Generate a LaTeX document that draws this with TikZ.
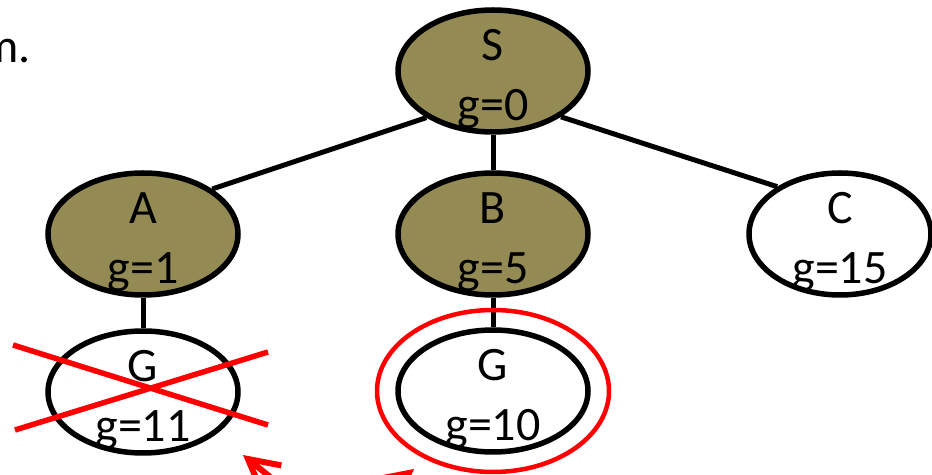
\documentclass[tikz,border=0pt]{standalone}
\usepackage{fontspec}
\setmainfont{Carlito}
\usetikzlibrary{shapes.geometric,arrows.meta}
\definecolor{visited}{HTML}{948A54}

\begin{document}
\begin{tikzpicture}[x=0.5pt,y=-0.5pt,
		state/.style={ellipse,draw,line width=2.75pt,minimum width=95pt,minimum height=61pt,inner sep=0pt},
		gval/.style={align=center,font=\fontsize{24}{30}\selectfont,inner sep=0pt},
		tree/.style={line width=2.5pt},
		crossout/.style={draw=red,line width=2.75pt},
		pointer/.style={draw=red,line width=3pt,-{Straight Barb[length=15pt,width=16pt]}}]
				\useasboundingbox (0,0) rectangle (932,475);
				
				\node[anchor=base east,font=\fontsize{24}{28}\selectfont,inner sep=0pt] (cutoff) at (31,63) {m.};
				
				\begin{scope}[every node/.style={state,fill=visited}]
					\node (S) at (493,71) {};
					\node (A) at (143,234) {};
					\node (B) at (493,234) {};
				\end{scope}
				\node[state,minimum width=91pt] (C) at (840,234) {};
				\node[state] (Gdead) at (143,392) {};
				\node[state] (Ggoal) at (493,391) {};
				
				\draw[tree] (S.215) -- (A.33);
				\draw[tree] (S.south) -- (B.north);
				\draw[tree] (S.326) -- (C.143);
				\draw[tree] (A.south) -- (Gdead.north);
				\draw[tree] (B.south) -- (Ggoal.north);
				
				\node[gval] (Stxt) at ([yshift=-4pt]S) {S\\g=0};
				\node[gval] (Atxt) at ([yshift=-4pt]A) {A\\g=1};
				\node[gval] (Btxt) at ([yshift=-4pt]B) {B\\g=5};
				\node[gval] (Ctxt) at ([yshift=-4pt]C) {C\\g=15};
				\node[gval] (Gdeadtxt) at ([yshift=-4pt]Gdead) {G\\g=11};
				\node[gval] (Ggoaltxt) at ([yshift=-4pt]Ggoal) {G\\g=10};
				
				% crossed out and circled goals
				\draw[crossout] (13,345) -- (268,425);
				\draw[crossout] (15,430) -- (268,352);
				\draw[red,line width=2.25pt] (Ggoal) ellipse [x radius=116, y radius=81];
				
				\coordinate (tail1) at (290,493);
				\coordinate (tip1) at (243,455);
				\coordinate (tail2) at (367,507);
				\coordinate (tip2) at (414,469);
				\draw[pointer] (tail1) -- (tip1);
				\draw[pointer] (tail2) -- (tip2);
			\end{tikzpicture}
\end{document}
